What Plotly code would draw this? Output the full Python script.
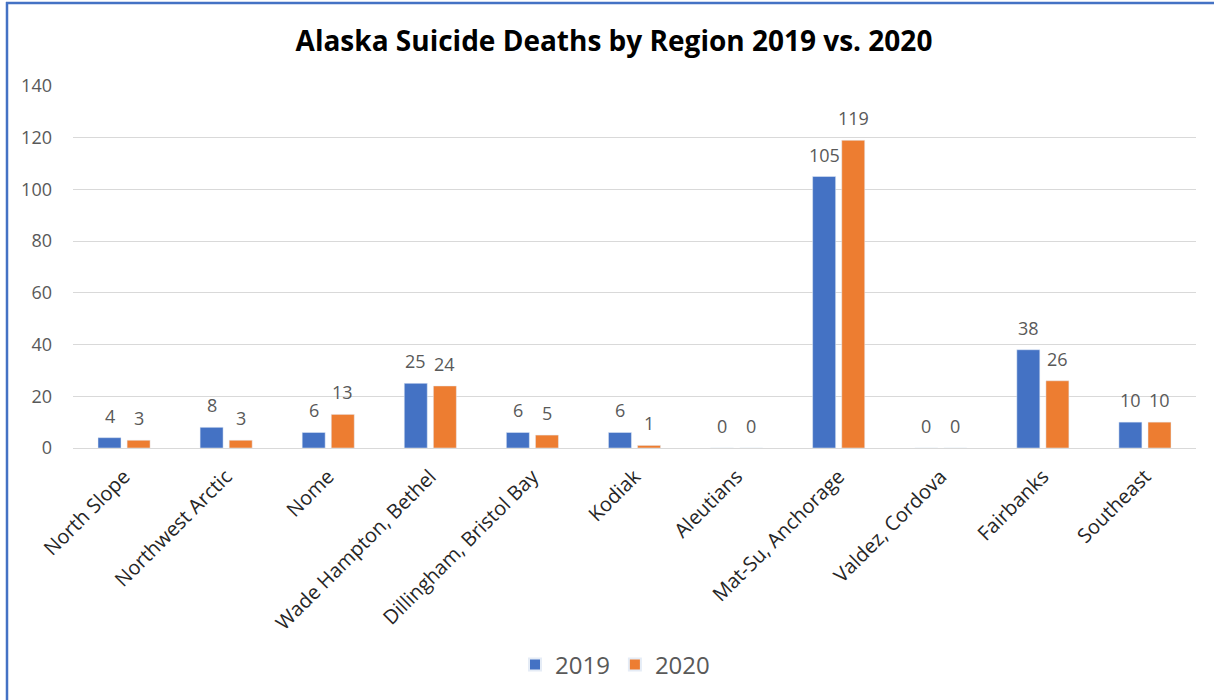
import plotly.graph_objects as go

categories = ["North Slope", "Northwest Arctic", "Nome", "Wade Hampton, Bethel",
              "Dillingham, Bristol Bay", "Kodiak", "Aleutians", "Mat-Su, Anchorage",
              "Valdez, Cordova", "Fairbanks", "Southeast"]
deaths_2019 = [4, 8, 6, 25, 6, 6, 0, 105, 0, 38, 10]
deaths_2020 = [3, 3, 13, 24, 5, 1, 0, 119, 0, 26, 10]
y_ticks = [0, 20, 40, 60, 80, 100, 120, 140]

W, H = 1214, 700
ML, MR, MT, MB = 73, 18, 86, 252

font_fam = "Open Sans, Noto Sans, sans-serif"
gray = "#595959"
blue = "#4472C4"
orange = "#ED7D31"

BARGAP = 0.43
GROUPGAP = 0.21

pw = W - ML - MR
ph = H - MT - MB
cat_w = pw / len(categories)
slot = cat_w * (1 - BARGAP) / 2
def px_x(p):
    return (p - ML) / pw
def px_y(p):
    return (H - MB - p) / ph

fig = go.Figure()
fig.add_trace(go.Bar(name="2019", x=categories, y=deaths_2019, marker_color=blue))
fig.add_trace(go.Bar(name="2020", x=categories, y=deaths_2020, marker_color=orange))

annotations = []
for series, sign in ((deaths_2019, -1), (deaths_2020, 1)):
    for cat, val in zip(categories, series):
        annotations.append(dict(
            x=cat, y=val, xref="x", yref="y", text=str(val), showarrow=False,
            xanchor="center", yanchor="bottom", xshift=sign * slot / 2, yshift=8,
            font=dict(size=18, color=gray, family=font_fam)))

fig.update_layout(
    width=W, height=H,
    margin=dict(l=ML, r=MR, t=MT, b=MB),
    paper_bgcolor="white", plot_bgcolor="white",
    barmode="group", bargap=BARGAP, bargroupgap=GROUPGAP,
    title=dict(text="<b>Alaska Suicide Deaths by Region 2019 vs. 2020</b>",
               xref="container", x=614 / W, xanchor="center", y=1 - 41 / H, yanchor="middle",
               font=dict(size=28, color="black", family=font_fam)),
    xaxis=dict(tickangle=-45, tickfont=dict(size=20, color="#262626", family=font_fam),
               showline=True, linecolor="#D9D9D9", linewidth=1, ticks="",
               ticklabelstandoff=8),
    yaxis=dict(range=[0, 140], tickvals=y_ticks, showgrid=True, gridcolor="#D9D9D9",
               gridwidth=1, zeroline=False, showline=False, ticks="",
               ticklabelstandoff=20,
               tickfont=dict(size=18, color=gray, family=font_fam)),
    legend=dict(orientation="h", x=px_x(615), xanchor="center", y=px_y(665), yanchor="middle",
                font=dict(size=24, color=gray, family=font_fam), itemsizing="constant"),
    annotations=annotations,
    shapes=[
        dict(type="line", xref="paper", yref="paper", x0=px_x(7), x1=px_x(7),
             y0=px_y(2), y1=px_y(700), line=dict(color=blue, width=2.5)),
        dict(type="line", xref="paper", yref="paper", x0=px_x(6), x1=px_x(1214),
             y0=px_y(3), y1=px_y(3), line=dict(color=blue, width=2.5)),
    ],
)

fig.write_html("out.html")
